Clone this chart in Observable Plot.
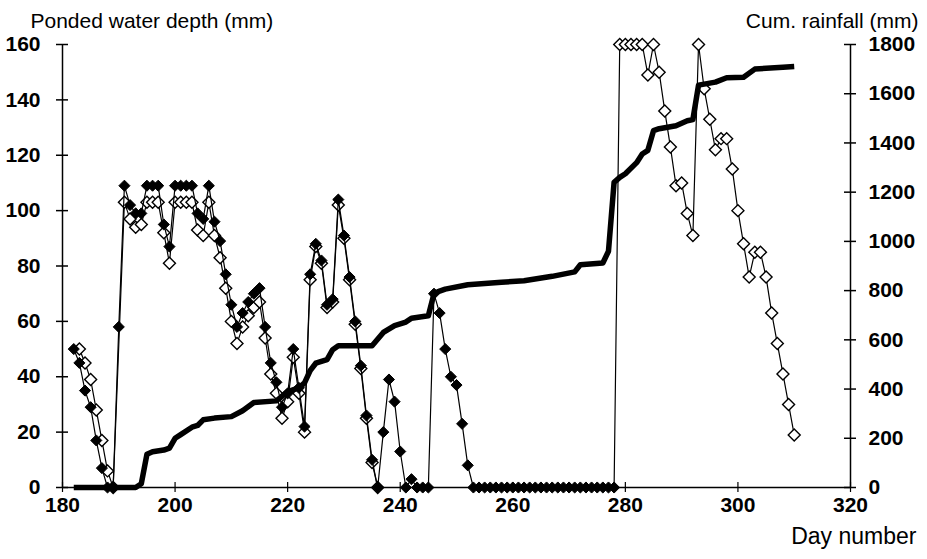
<!DOCTYPE html>
<html>
<head>
<meta charset="utf-8">
<script src="https://cdn.jsdelivr.net/npm/d3@7"></script>
<script src="https://cdn.jsdelivr.net/npm/@observablehq/plot@0.6"></script>
<style>
  html, body { margin: 0; padding: 0; background: #fff; }
  #chart { width: 927px; height: 559px; }
</style>
</head>
<body>
<div id="chart"></div>
<script>
// ---- Data ----
// Filled diamonds: ponded water depth (mm), days 182..278
const filledDays = [182,183,184,185,186,187,188,189,190,191,192,193,194,195,196,197,198,199,200,201,202,203,204,205,206,207,208,209,210,211,212,213,214,215,216,217,218,219,220,221,222,223,224,225,226,227,228,229,230,231,232,233,234,235,236,237,238,239,240,241,242,243,244,245,246,247,248,249,250,251,252,253,254,255,256,257,258,259,260,261,262,263,264,265,266,267,268,269,270,271,272,273,274,275,276,277,278];
const filledDepth = [50,45,35,29,17,7,0,0,58,109,102,99,99,109,109,109,95,87,109,109,109,109,99,97,109,96,89,77,66,58,63,67,70,72,58,45,38,29,34,50,36,22,77,88,82,66,68,104,91,76,60,44,26,10,0,20,39,31,13,0,3,0,0,0,70,63,50,40,37,23,8,0,0,0,0,0,0,0,0,0,0,0,0,0,0,0,0,0,0,0,0,0,0,0,0,0,0];

// Open diamonds: first period
const openDaysA = [183,184,185,186,187,188,189,191,192,193,194,195,196,197,198,199,200,201,202,203,204,205,206,207,208,209,210,211,212,213,214,215,216,217,218,219,220,221,222,223,224,225,226,227,228,229,230,231,232,233,234,235,236];
const openDepthA = [50,45,39,28,17,6,0,103,97,94,95,103,103,103,92,81,103,103,103,103,93,91,103,91,83,72,60,52,58,62,65,67,54,41,34,25,31,47,34,20,75,87,81,65,67,102,90,75,59,43,25,9,0];

// Open diamonds: second period
const openDaysB = [279,280,281,282,283,284,285,286,287,288,289,290,291,292,293,294,295,296,297,298,299,300,301,302,303,304,305,306,307,308,309,310];
const openDepthB = [160,160,160,160,160,149,160,150,136,123,109,110,99,91,160,144,133,122,126,126,115,100,88,76,85,85,76,63,52,41,30,19];
const jumpDays = [278,279];
const jumpDepth = [0,160];

// Cumulative rainfall (mm), right axis
const rainDays = [182,193,194,195,196,198,199,200,201,203,204,205,207,210,212,214,218,219,220,222,223,224,225,227,228,229,235,237,239,241,242,245,246,247,248,252,258,262,267,271,272,276,277,278,279,280,282,283,284,285,286,289,291,292,293,296,298,301,303,308,310];
const rainCum = [0,0,15,135,145,152,160,200,215,245,252,275,282,288,312,345,352,370,390,405,425,475,505,520,560,576,576,630,658,672,688,698,788,798,806,824,834,840,858,876,905,912,960,1240,1260,1275,1320,1355,1370,1450,1458,1470,1490,1495,1635,1647,1665,1667,1700,1708,1711];

// Axis ticks
const xTicks = [180,200,220,240,260,280,300,320];
const depthTicks = [0,20,40,60,80,100,120,140,160];
const rainTicks = [0,200,400,600,800,1000,1200,1400,1600,1800];

// ---- Build tables ----
const RAIN_MAX = 1800, DEPTH_MAX = 160;
const toDepth = v => v * DEPTH_MAX / RAIN_MAX;
const filled = filledDays.map((d, i) => ({day: d, v: filledDepth[i]}));
const openA = openDaysA.map((d, i) => ({day: d, v: openDepthA[i]}));
const openB = openDaysB.map((d, i) => ({day: d, v: openDepthB[i]}));
const jump = jumpDays.map((d, i) => ({day: d, v: jumpDepth[i]}));
const rain = rainDays.map((d, i) => ({day: d, v: toDepth(rainCum[i])}));

const W = 927, H = 559;
const mL = 62, mR = 77, mT = 44, mB = 72;
const pw = W - mL - mR, ph = H - mT - mB;

const chart = Plot.plot({
  width: W, height: H,
  marginLeft: mL, marginRight: mR, marginTop: mT, marginBottom: mB,
  style: {fontFamily: "'Liberation Sans', Arial, sans-serif", fontSize: "21px", fontWeight: "bold", color: "#000", background: "#fff"},
  x: {domain: [180, 320]},
  y: {domain: [0, 160]},
  marks: [
    // axis lines
    Plot.ruleX([180, 320], {stroke: "#000", strokeWidth: 1.5}),
    Plot.ruleY([0], {stroke: "#000", strokeWidth: 1.5}),
    // crossing tick marks
    Plot.tickY(depthTicks, {y: d => d, insetLeft: -6, insetRight: pw - 6, stroke: "#000", strokeWidth: 1.5}),
    Plot.tickY(rainTicks.map(toDepth), {y: d => d, insetLeft: pw - 6, insetRight: -6, stroke: "#000", strokeWidth: 1.5}),
    Plot.tickX(xTicks, {x: d => d, insetTop: ph - 5, insetBottom: -5, stroke: "#000", strokeWidth: 1.2}),
    // axes labels
    Plot.axisX({ticks: xTicks, tickSize: 0, tickPadding: 10, label: null, tickFormat: d => String(d)}),
    Plot.axisY({anchor: "left", ticks: depthTicks, tickSize: 0, tickPadding: 22, label: null, tickFormat: d => String(d)}),
    Plot.axisY({anchor: "right", ticks: rainTicks.map(toDepth), tickSize: 0, tickPadding: 18, label: null,
                tickFormat: d => String(Math.round(d * RAIN_MAX / DEPTH_MAX))}),
    // open diamond series
    Plot.line(openA, {x: "day", y: "v", stroke: "#000", strokeWidth: 1.2}),
    Plot.line(jump, {x: "day", y: "v", stroke: "#000", strokeWidth: 1.2}),
    Plot.line(openB, {x: "day", y: "v", stroke: "#000", strokeWidth: 1.2}),
    Plot.dot(openA, {x: "day", y: "v", symbol: "diamond2", r: 5.4, fill: "#fff", stroke: "#000", strokeWidth: 1.4}),
    Plot.dot(openB, {x: "day", y: "v", symbol: "diamond2", r: 5.4, fill: "#fff", stroke: "#000", strokeWidth: 1.4}),
    // filled diamond series
    Plot.line(filled, {x: "day", y: "v", stroke: "#000", strokeWidth: 1.2}),
    Plot.dot(filled, {x: "day", y: "v", symbol: "diamond2", r: 5, fill: "#000", stroke: "#000", strokeWidth: 1}),
    // cumulative rainfall
    Plot.line(rain, {x: "day", y: "v", stroke: "#000", strokeWidth: 5.5, strokeLinejoin: "round", strokeLinecap: "butt"}),
    // titles
    Plot.text(["Ponded water depth (mm)"], {text: d => d, frameAnchor: "top-left", dx: -32, dy: -31, textAnchor: "start", fontSize: 21, fontWeight: "normal"}),
    Plot.text(["Cum. rainfall (mm)"], {text: d => d, frameAnchor: "top-right", dx: 68, dy: -31, textAnchor: "end", fontSize: 21, fontWeight: "normal"}),
    Plot.text(["Day number"], {text: d => d, frameAnchor: "bottom-right", dx: 66, dy: 56, textAnchor: "end", fontSize: 23, fontWeight: "normal"})
  ]
});
document.getElementById("chart").appendChild(chart);
</script>
</body>
</html>
